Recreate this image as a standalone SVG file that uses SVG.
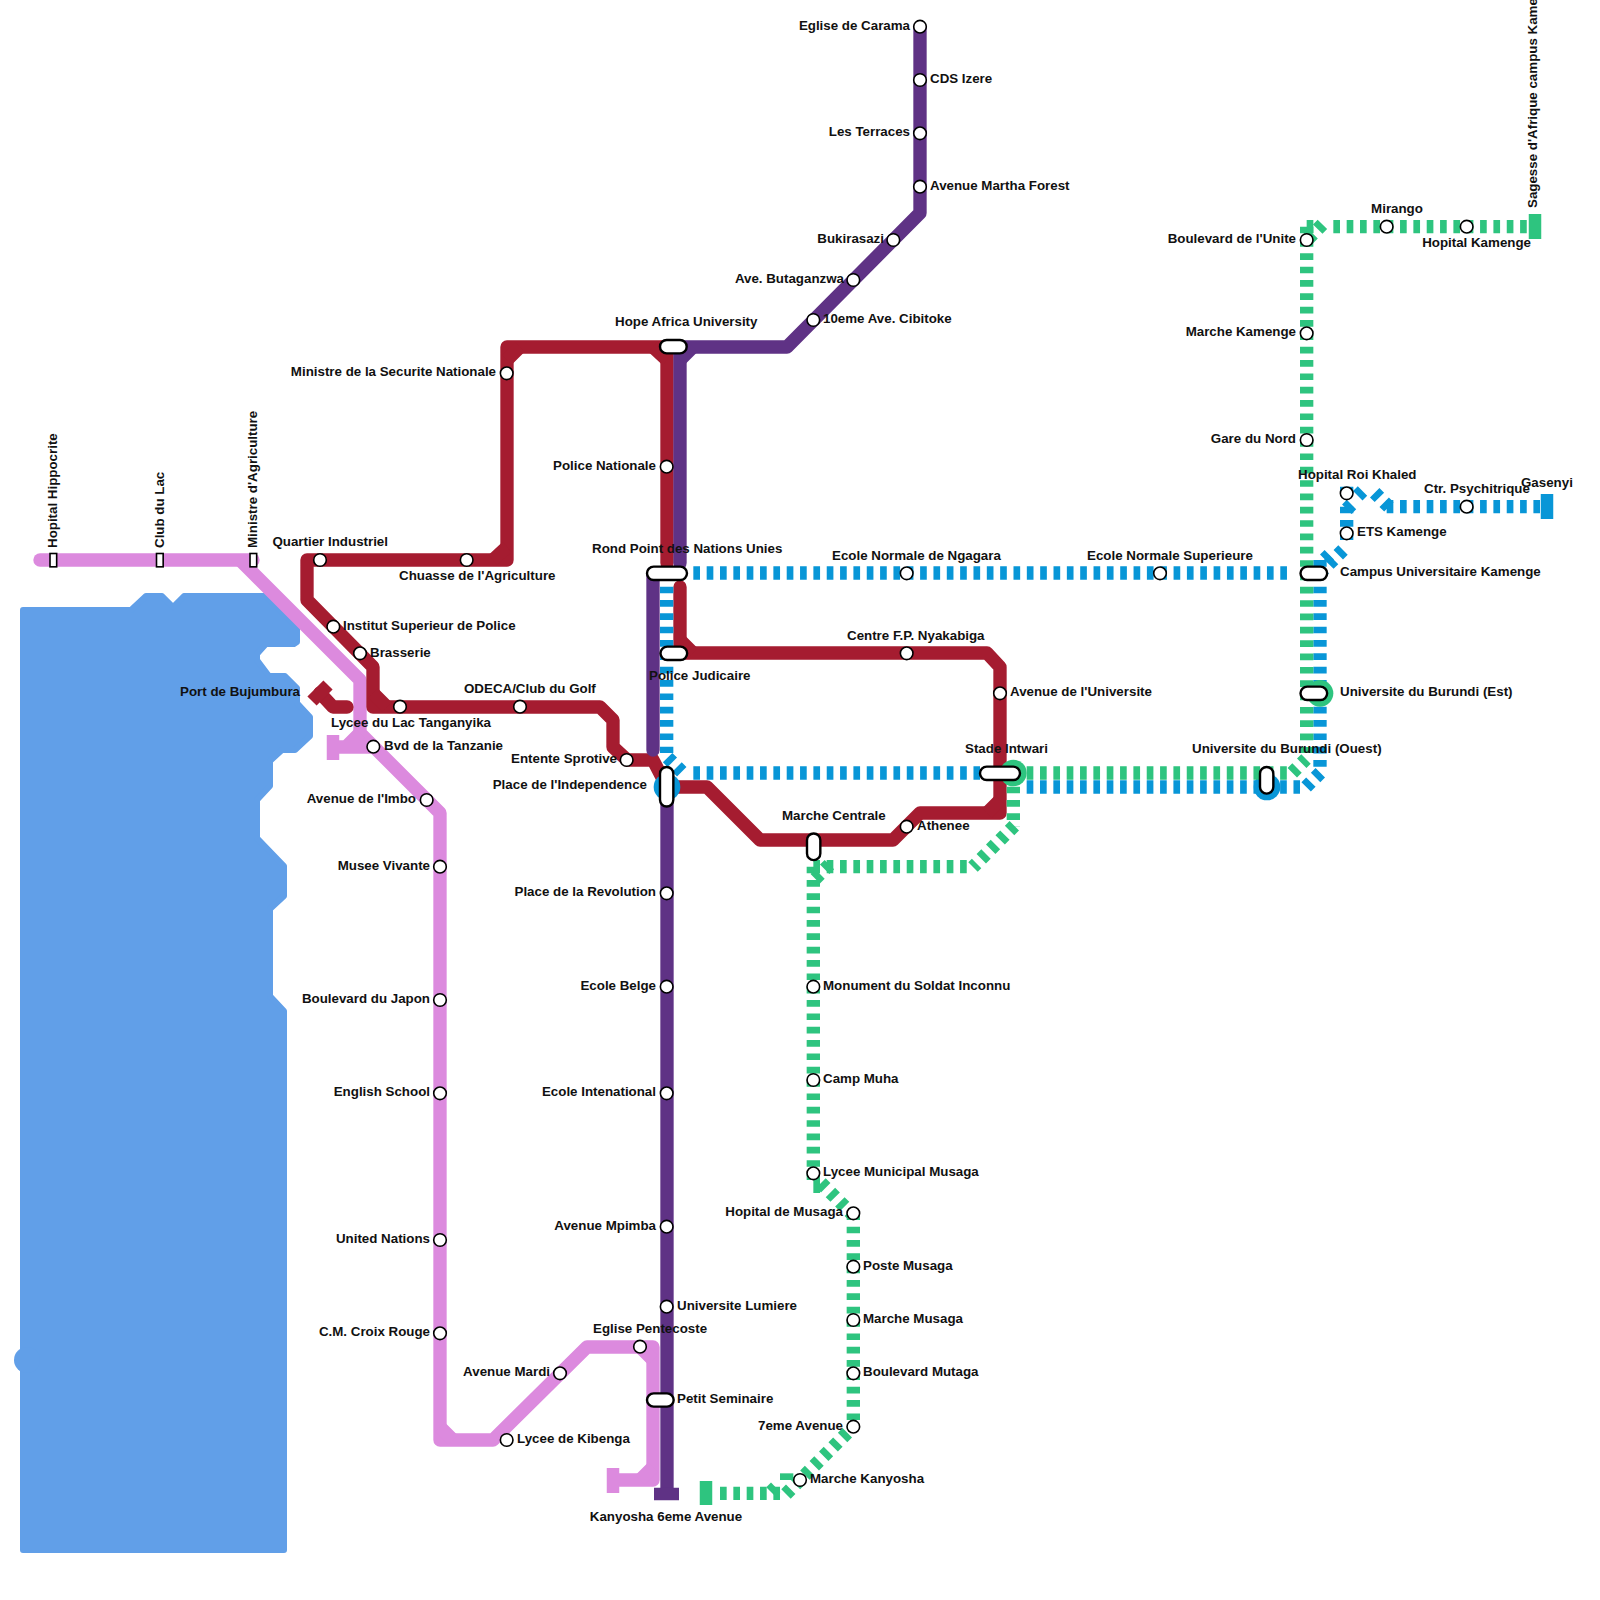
<svg xmlns="http://www.w3.org/2000/svg" width="1600" height="1600" viewBox="0 0 1600 1600">
<style>
.l{fill:none;stroke-width:13.33;stroke-linecap:round;stroke-linejoin:round}
.b{stroke-linecap:butt}
.d{fill:none;stroke-width:13.33;stroke-dasharray:6.67 6.67}
.t{fill:none;stroke-width:12.5}
.pk{stroke:#dc8ade}.rd{stroke:#a51c30}.pu{stroke:#5f3285}.bl{stroke:#0896d7}.gr{stroke:#2ec47f}
.st{fill:#fff;stroke:#000;stroke-width:1.6}
.pl{fill:#fff;stroke:#000;stroke-width:2.4}
text{font-family:"Liberation Sans",Arial,sans-serif;font-size:13.33px;font-weight:700;fill:#111}
.e{text-anchor:end}.m{text-anchor:middle}
</style>
<rect width="1600" height="1600" fill="#fff"/>
<g id="water">
<path fill="#619fe8" stroke="#619fe8" stroke-width="6" stroke-linejoin="round" d="M23,610H131L146,596H162L173,607L184,596H266L297,627V642L294,644H266L257,654V660L269,676H285L297,688V703L310,717V736L295,750H282L270,761V786L257,800V838L284,866V896L270,909V996L284,1011V1550H23Z"/>
<circle cx="27" cy="1360" r="13" fill="#619fe8"/>
</g>
<g id="connectors">
<g id="line-pink">
<path class="l pk" d="M40,560H253"/>
<path class="l b pk" d="M240,560L360,680V733L440,813V1440H493L587,1347H653V1480H613"/>
<path class="l b pk" d="M440,1427L453,1440M640,1347L653,1360M653,1467L640,1480M373,747H333M346,747L360,733"/>
<path class="t b pk" d="M333,735V760M613,1468V1493"/>
</g>
<g id="line-red">
<path class="l rd" d="M680,587V653H987L1000,667V813H920L893,840H760L707,787H667L653,760H627L613,747V720L600,707H373V667L307,600V560H507V347H667V563"/>
<path class="l b rd" d="M373,693L387,707M493,560L507,547M507,360L520,347M653,347L667,360M680,640L693,653M987,813L1000,800"/>
<path class="l rd" d="M347,707H333L320,693"/>
<path class="t b rd" style="stroke-width:13" d="M312,701L328,685"/>
</g>
<g id="line-purple">
<path class="l pu" d="M680,563V347H787L920,213V27"/>
<path class="l b pu" d="M680,360L693,347"/>
<path class="l pu" d="M653,573V750"/>
<path class="l b pu" d="M667,780V1494"/>
<path class="t b pu" d="M654,1494H679"/>
</g>
<g id="line-blue">
<circle cx="667" cy="787" r="13.33" fill="#0896d7"/>
<circle cx="1267" cy="787" r="13.33" fill="#0896d7"/>
<path class="d bl" d="M693.33,573H1287"/>
<path class="d bl" d="M666.67,586.67V753"/>
<path class="d bl" d="M667.6,757.6L684,774"/>
<path class="d bl" d="M693.33,773H980"/>
<path class="d bl" d="M1026.67,787H1300"/>
<path class="d bl" d="M1320,560V567M1320,586.67V767"/>
<path class="d bl" d="M1320.3,772.7L1304,789"/>
<path class="d bl" d="M1343,550L1320,573"/>
<path class="d bl" d="M1329.3,554.7L1324.7,559.3"/>
<path class="d bl" d="M1346.67,520V540"/>
<path class="d bl" d="M1346.67,506.67V513.33M1346.67,486.67V493.33"/>
<path class="d bl" d="M1351.5,504.5L1346.5,509.5M1362.5,491L1357.5,496"/>
<path class="d bl" d="M1374.7,492.7L1379.4,497.4M1384.2,502.2L1388.9,506.9"/>
<path class="d bl" d="M1386.67,506.67H1540"/>
<path class="t b bl" d="M1547,494V519"/>
</g>
<g id="line-green">
<circle cx="1013.33" cy="773" r="13.33" fill="#2ec47f"/>
<circle cx="1320" cy="693.33" r="13.33" fill="#2ec47f"/>
<path class="d gr" d="M1306.67,226.67V753"/>
<path class="d gr" d="M1322.4,224.3L1304,243"/>
<path class="d gr" d="M1306.67,226.67H1314M1333.33,226.67H1530"/>
<path class="t b gr" d="M1535,214V239"/>
<path class="d gr" d="M1026.67,773H1287"/>
<path class="d gr" d="M1292.3,772.7L1306,759"/>
<path class="d gr" d="M1013.33,773.33V827"/>
<path class="d gr" d="M1014.3,825.7L973,867"/>
<path class="d gr" d="M826.67,866.67H967"/>
<path class="d gr" d="M829.4,864.6L813,881"/>
<path class="d gr" d="M813.33,866.67V1180"/>
<path class="d gr" d="M813.33,866.67H820"/>
<path fill="none" class="gr" style="stroke-width:6.67" d="M816.67,1177V1193"/>
<path class="d gr" d="M821,1183L853,1215"/>
<path class="d gr" d="M853.33,1213.33V1427"/>
<path class="d gr" d="M847.3,1432.7L785,1495"/>
<path class="d gr" d="M775.7,1487.3L771,1492"/>
<path class="d gr" d="M786.67,1473.33V1480"/>
<path class="d gr" d="M720,1493.33H780"/>
<path class="t b gr" d="M706,1481V1505"/>
</g>
</g>
<g id="nodes">
<g id="n1"><rect class="st" x="50" y="553.5" width="6.67" height="13.33"/><text transform="translate(57,548) rotate(-90)">Hopital Hippocrite</text></g>
<g id="n2"><rect class="st" x="156.5" y="553.5" width="6.67" height="13.33"/><text transform="translate(164,548) rotate(-90)">Club du Lac</text></g>
<g id="n3"><rect class="st" x="250" y="553.5" width="6.67" height="13.33"/><text transform="translate(257,548) rotate(-90)">Ministre d'Agriculture</text></g>
<g id="n4"><circle class="st" cx="320" cy="560" r="6.3"/><text class="e" x="388" y="546">Quartier Industriel</text></g>
<g id="n5"><circle class="st" cx="466.67" cy="560" r="6.3"/><text x="399" y="580">Chuasse de l'Agriculture</text></g>
<g id="n6"><circle class="st" cx="333.33" cy="626.67" r="6.3"/><text x="343" y="630">Institut Superieur de Police</text></g>
<g id="n7"><circle class="st" cx="360" cy="653.33" r="6.3"/><text x="370" y="657">Brasserie</text></g>
<g id="n8"><text class="e" x="300" y="696">Port de Bujumbura</text></g>
<g id="n9"><circle class="st" cx="400" cy="706.67" r="6.3"/><text x="331" y="727">Lycee du Lac Tanganyika</text></g>
<g id="n10"><circle class="st" cx="520" cy="706.67" r="6.3"/><text x="464" y="693">ODECA/Club du Golf</text></g>
<g id="n11"><circle class="st" cx="373.33" cy="746.67" r="6.3"/><text x="384" y="750">Bvd de la Tanzanie</text></g>
<g id="n12"><circle class="st" cx="426.67" cy="800" r="6.3"/><text class="e" x="416" y="803">Avenue de l'Imbo</text></g>
<g id="n13"><circle class="st" cx="440" cy="866.67" r="6.3"/><text class="e" x="430" y="870">Musee Vivante</text></g>
<g id="n14"><circle class="st" cx="440" cy="1000" r="6.3"/><text class="e" x="430" y="1003">Boulevard du Japon</text></g>
<g id="n15"><circle class="st" cx="440" cy="1093.33" r="6.3"/><text class="e" x="430" y="1096">English School</text></g>
<g id="n16"><circle class="st" cx="440" cy="1240" r="6.3"/><text class="e" x="430" y="1243">United Nations</text></g>
<g id="n17"><circle class="st" cx="440" cy="1333.33" r="6.3"/><text class="e" x="430" y="1336">C.M. Croix Rouge</text></g>
<g id="n18"><circle class="st" cx="506.67" cy="1440" r="6.3"/><text x="517" y="1443">Lycee de Kibenga</text></g>
<g id="n19"><circle class="st" cx="560" cy="1373.33" r="6.3"/><text class="e" x="550" y="1376">Avenue Mardi</text></g>
<g id="n20"><circle class="st" cx="640" cy="1346.67" r="6.3"/><text x="593" y="1333">Eglise Pentecoste</text></g>
<g id="n21"><circle class="st" cx="506.67" cy="373.33" r="6.3"/><text class="e" x="496" y="376">Ministre de la Securite Nationale</text></g>
<g id="n22"><rect class="pl" x="660" y="340" width="26.67" height="13.33" rx="6.67"/><text x="615" y="326">Hope Africa University</text></g>
<g id="n23"><circle class="st" cx="666.67" cy="466.67" r="6.3"/><text class="e" x="656" y="470">Police Nationale</text></g>
<g id="n24"><rect class="pl" x="647" y="566.67" width="40" height="13.33" rx="6.67"/><text x="592" y="553">Rond Point des Nations Unies</text></g>
<g id="n25"><rect class="pl" x="660.5" y="646.67" width="26.67" height="13.33" rx="6.67"/><text x="649" y="680">Police Judicaire</text></g>
<g id="n26"><circle class="st" cx="626.67" cy="760" r="6.3"/><text class="e" x="617" y="763">Entente Sprotive</text></g>
<g id="n27"><rect class="pl" x="660" y="767" width="13.33" height="39.5" rx="6.67"/><text class="e" x="647" y="789">Place de l'Independence</text></g>
<g id="n28"><circle class="st" cx="666.67" cy="893.33" r="6.3"/><text class="e" x="656" y="896">Place de la Revolution</text></g>
<g id="n29"><circle class="st" cx="666.67" cy="986.67" r="6.3"/><text class="e" x="656" y="990">Ecole Belge</text></g>
<g id="n30"><circle class="st" cx="666.67" cy="1093.33" r="6.3"/><text class="e" x="656" y="1096">Ecole Intenational</text></g>
<g id="n31"><circle class="st" cx="666.67" cy="1226.67" r="6.3"/><text class="e" x="656" y="1230">Avenue Mpimba</text></g>
<g id="n32"><circle class="st" cx="666.67" cy="1306.67" r="6.3"/><text x="677" y="1310">Universite Lumiere</text></g>
<g id="n33"><rect class="pl" x="647" y="1393.33" width="26.67" height="13.33" rx="6.67"/><text x="677" y="1403">Petit Seminaire</text></g>
<g id="n34"><text class="m" x="666" y="1521">Kanyosha 6eme Avenue</text></g>
<g id="n35"><circle class="st" cx="920" cy="26.67" r="6.3"/><text class="e" x="910" y="30">Eglise de Carama</text></g>
<g id="n36"><circle class="st" cx="920" cy="80" r="6.3"/><text x="930" y="83">CDS Izere</text></g>
<g id="n37"><circle class="st" cx="920" cy="133.33" r="6.3"/><text class="e" x="910" y="136">Les Terraces</text></g>
<g id="n38"><circle class="st" cx="920" cy="186.67" r="6.3"/><text x="930" y="190">Avenue Martha Forest</text></g>
<g id="n39"><circle class="st" cx="893.33" cy="240" r="6.3"/><text class="e" x="884" y="243">Bukirasazi</text></g>
<g id="n40"><circle class="st" cx="853.33" cy="280" r="6.3"/><text class="e" x="844" y="283">Ave. Butaganzwa</text></g>
<g id="n41"><circle class="st" cx="813.33" cy="320" r="6.3"/><text x="823" y="323">10eme Ave. Cibitoke</text></g>
<g id="n42"><circle class="st" cx="906.67" cy="573.33" r="6.3"/><text x="832" y="560">Ecole Normale de Ngagara</text></g>
<g id="n43"><circle class="st" cx="1160" cy="573.33" r="6.3"/><text x="1087" y="560">Ecole Normale Superieure</text></g>
<g id="n44"><circle class="st" cx="906.67" cy="653.33" r="6.3"/><text x="847" y="640">Centre F.P. Nyakabiga</text></g>
<g id="n45"><circle class="st" cx="1000" cy="693.33" r="6.3"/><text x="1010" y="696">Avenue de l'Universite</text></g>
<g id="n46"><rect class="pl" x="980" y="766.67" width="40" height="13.33" rx="6.67"/><text x="965" y="753">Stade Intwari</text></g>
<g id="n47"><rect class="pl" x="807" y="833.5" width="13.33" height="26.67" rx="6.67"/><text x="782" y="820">Marche Centrale</text></g>
<g id="n48"><circle class="st" cx="906.67" cy="826.67" r="6.3"/><text x="917" y="830">Athenee</text></g>
<g id="n49"><circle class="st" cx="813.33" cy="986.67" r="6.3"/><text x="823" y="990">Monument du Soldat Inconnu</text></g>
<g id="n50"><circle class="st" cx="813.33" cy="1080" r="6.3"/><text x="823" y="1083">Camp Muha</text></g>
<g id="n51"><circle class="st" cx="813.33" cy="1173.33" r="6.3"/><text x="823" y="1176">Lycee Municipal Musaga</text></g>
<g id="n52"><circle class="st" cx="853.33" cy="1213.33" r="6.3"/><text class="e" x="843" y="1216">Hopital de Musaga</text></g>
<g id="n53"><circle class="st" cx="853.33" cy="1266.67" r="6.3"/><text x="863" y="1270">Poste Musaga</text></g>
<g id="n54"><circle class="st" cx="853.33" cy="1320" r="6.3"/><text x="863" y="1323">Marche Musaga</text></g>
<g id="n55"><circle class="st" cx="853.33" cy="1373.33" r="6.3"/><text x="863" y="1376">Boulevard Mutaga</text></g>
<g id="n56"><circle class="st" cx="853.33" cy="1426.67" r="6.3"/><text class="e" x="843" y="1430">7eme Avenue</text></g>
<g id="n57"><circle class="st" cx="800" cy="1480" r="6.3"/><text x="810" y="1483">Marche Kanyosha</text></g>
<g id="n59"><circle class="st" cx="1306.67" cy="240" r="6.3"/><text class="e" x="1296" y="243">Boulevard de l'Unite</text></g>
<g id="n60"><circle class="st" cx="1306.67" cy="333.33" r="6.3"/><text class="e" x="1296" y="336">Marche Kamenge</text></g>
<g id="n61"><circle class="st" cx="1306.67" cy="440" r="6.3"/><text class="e" x="1296" y="443">Gare du Nord</text></g>
<g id="n62"><circle class="st" cx="1386.67" cy="226.67" r="6.3"/><text class="m" x="1397" y="213">Mirango</text></g>
<g id="n63"><circle class="st" cx="1466.67" cy="226.67" r="6.3"/><text class="e" x="1531" y="247">Hopital Kamenge</text></g>
<g id="n64"><text transform="translate(1537,208) rotate(-90)">Sagesse d'Afrique campus Kamenge</text></g>
<g id="n65"><circle class="st" cx="1346.67" cy="493.33" r="6.3"/><text x="1298" y="479">Hopital Roi Khaled</text></g>
<g id="n66"><circle class="st" cx="1346.67" cy="533.33" r="6.3"/><text x="1357" y="536">ETS Kamenge</text></g>
<g id="n67"><circle class="st" cx="1466.67" cy="506.67" r="6.3"/><text x="1424" y="493">Ctr. Psychitrique</text></g>
<g id="n68"><text x="1521" y="487">Gasenyi</text></g>
<g id="n69"><rect class="pl" x="1300.5" y="566.67" width="26.67" height="13.33" rx="6.67"/><text x="1340" y="576">Campus Universitaire Kamenge</text></g>
<g id="n70"><rect class="pl" x="1300.5" y="686.67" width="26.67" height="13.33" rx="6.67"/><text x="1340" y="696">Universite du Burundi (Est)</text></g>
<g id="n71"><rect class="pl" x="1260" y="767" width="13.33" height="26.67" rx="6.67"/><text x="1192" y="753">Universite du Burundi (Ouest)</text></g>
</g>
</svg>
